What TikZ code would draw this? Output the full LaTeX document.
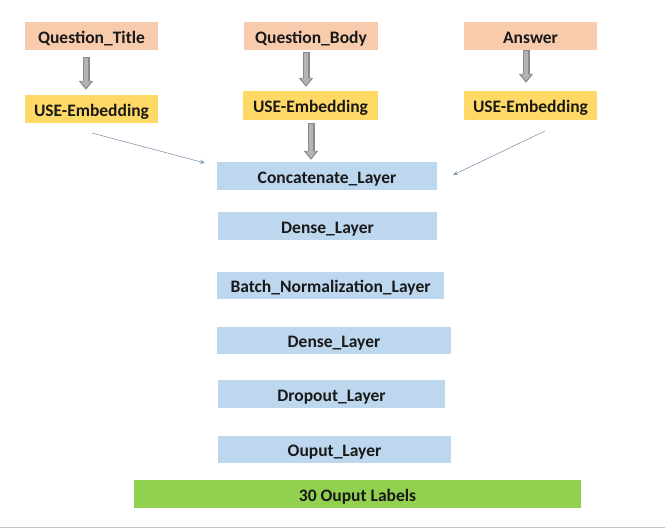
\documentclass[tikz,border=0pt]{standalone}
\usepackage{fontspec}
\setmainfont{Carlito}
\usetikzlibrary{arrows.meta}
\definecolor{peach}{HTML}{F8CBAD}
\definecolor{gold}{HTML}{FFD966}
\definecolor{lblue}{HTML}{BDD7EE}
\definecolor{lgreen}{HTML}{92D050}
\definecolor{thinarr}{HTML}{8497B0}
\definecolor{blockarr}{HTML}{8A8A8A}
\definecolor{blockin}{HTML}{B4B4B4}
\tikzset{
  box/.style={inner sep=0pt, minimum height=28pt, font=\fontsize{17.5}{19}\selectfont\bfseries, text=black!90, text height=14pt, text depth=0pt},
  inbox/.style={box, fill=peach, minimum width=133pt},
  embbox/.style={box, fill=gold, minimum width=134pt},
  layerbox/.style={box, fill=lblue},
  outbox/.style={box, fill=lgreen},
  blockarrow/.style={draw=blockarr, line width=7pt, -{Triangle[length=9pt,width=14pt]}},
  blockinner/.style={draw=blockin, line width=4pt, -{Triangle[length=6.5pt,width=10pt]}},
  thinarrow/.style={draw=thinarr, line width=0.6pt, -{Stealth[length=5pt,width=4pt]}}
}
\begin{document}
\begin{tikzpicture}[x=1pt,y=-1pt]
\useasboundingbox (0,0) rectangle (665,528);
\node[inbox] (qt) at (91.5,36) {Question\_Title};
\node[inbox, minimum width=134pt] (qb) at (311,36) {Question\_Body};
\node[inbox] (an) at (530.5,36) {Answer};
\node[embbox, minimum width=133pt] (ue1) at (91.5,109) {USE-Embedding};
\node[embbox, minimum width=135pt, minimum height=29pt] (ue2) at (310.5,105.5) {USE-Embedding};
\node[embbox, minimum width=133pt, minimum height=29pt] (ue3) at (530.5,105.5) {USE-Embedding};
\node[layerbox, minimum width=220pt] (cat) at (327,176) {Concatenate\_Layer};
\node[layerbox, minimum width=219pt] (d1) at (327.5,226) {Dense\_Layer};
\node[layerbox, minimum width=227pt, minimum height=27pt] (bn) at (330.5,285) {Batch\_Normalization\_Layer};
\node[layerbox, minimum width=234pt, minimum height=27pt] (d2) at (334,340.5) {Dense\_Layer};
\node[layerbox, minimum width=227pt] (dr) at (331.5,394) {Dropout\_Layer};
\node[layerbox, minimum width=233pt, minimum height=27pt] (ou) at (334.5,449.5) {Ouput\_Layer};
\node[outbox, minimum width=447pt] (lab) at (357.5,494) {30 Ouput Labels};
% block arrows
\draw[blockarrow, shorten <=7pt, shorten >=5pt] (qt.south -| 86,0) -- (ue1.north -| 86,0);
\draw[blockinner, shorten <=8pt, shorten >=7pt] (qt.south -| 86,0) -- (ue1.north -| 86,0);
\draw[blockarrow, shorten <=2pt, shorten >=4pt] (qb.south -| 306,0) -- (ue2.north -| 306,0);
\draw[blockinner, shorten <=3pt, shorten >=6pt] (qb.south -| 306,0) -- (ue2.north -| 306,0);
\draw[blockarrow, shorten <=0pt, shorten >=8pt] (an.south -| 526,0) -- (ue3.north -| 526,0);
\draw[blockinner, shorten <=1pt, shorten >=10pt] (an.south -| 526,0) -- (ue3.north -| 526,0);
\draw[blockarrow, shorten <=3pt, shorten >=2pt] (ue2.south -| 311,0) -- (cat.north -| 311,0);
\draw[blockinner, shorten <=4pt, shorten >=4pt] (ue2.south -| 311,0) -- (cat.north -| 311,0);
% thin arrows
\coordinate (s1) at (92,133);
\coordinate (s3) at (545,131);
\draw[thinarrow] (s1) -- (205,163);
\draw[thinarrow] (s3) -- (453,175);
% bottom rule
\draw[gray!45, line width=1pt] (0,527) -- (665,527);
\end{tikzpicture}
\end{document}
